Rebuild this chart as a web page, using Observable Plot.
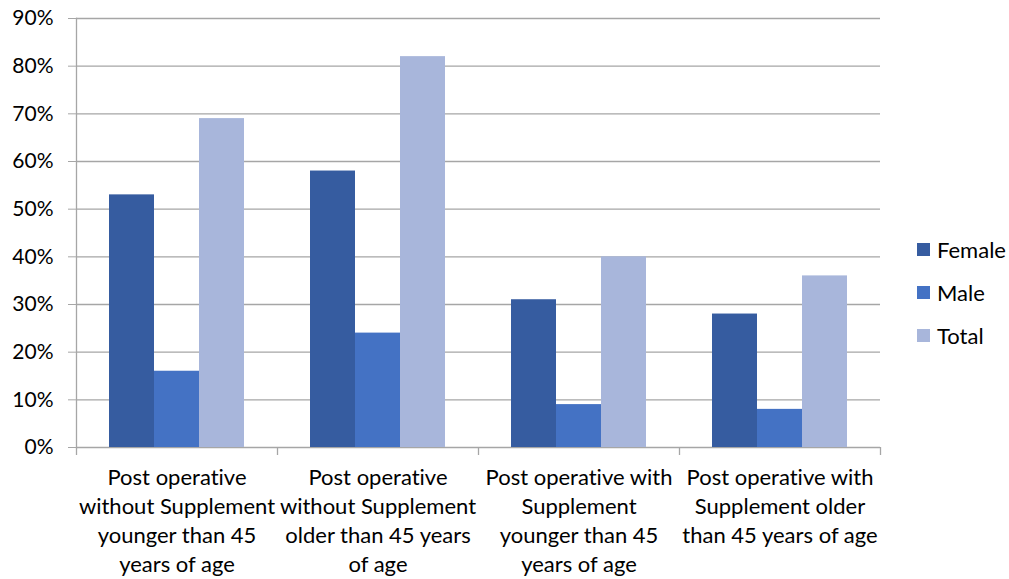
<!DOCTYPE html>
<html>
<head>
<meta charset="utf-8">
<script src="https://cdn.jsdelivr.net/npm/d3@7"></script>
<script src="https://cdn.jsdelivr.net/npm/@observablehq/plot@0.6"></script>
<style>
  html, body { margin: 0; padding: 0; background: #fff; }
  #wrap { position: relative; width: 1009px; height: 579px; font-family: Lato, "Open Sans", sans-serif; font-variant-ligatures: none; }
  #wrap svg text { font-variant-ligatures: none; font-feature-settings: "liga" 0, "clig" 0; }
  #legend { position: absolute; left: 917px; top: 228px; font-size: 22px; color: #000; }
  .item { display: flex; align-items: center; height: 43px; }
  .sw { width: 13px; height: 13px; margin-right: 7px; }
</style>
</head>
<body>
<div id="wrap"><div id="legend"></div></div>
<script>
const categories = [
  "Post operative without Supplement younger than 45 years of age",
  "Post operative without Supplement older than 45 years of age",
  "Post operative with Supplement younger than 45 years of age",
  "Post operative with Supplement older than 45 years of age"
];
const xLabels = [
  "Post operative\nwithout Supplement\nyounger than 45\nyears of age",
  "Post operative\nwithout Supplement\nolder than 45 years\nof age",
  "Post operative with\nSupplement\nyounger than 45\nyears of age",
  "Post operative with\nSupplement older\nthan 45 years of age"
];
const series = ["Female", "Male", "Total"];
const female = [53, 58, 31, 28];
const male = [16, 24, 9, 8];
const total = [69, 82, 40, 36];
const yTicks = [0, 10, 20, 30, 40, 50, 60, 70, 80, 90];
const colors = ["#365CA0", "#4472C4", "#A8B6DB"];

const values = {Female: female, Male: male, Total: total};
const data = [];
categories.forEach((c, i) => series.forEach(s => data.push({category: c, series: s, value: values[s][i]})));

const W = 1009, H = 579, mL = 76, mR = 129, mT = 18, mB = 132;
const bandW = (W - mL - mR) / categories.length;
const gridColor = "#A6A6A6";

const chart = Plot.plot({
  width: W, height: H,
  marginLeft: mL, marginRight: mR, marginTop: mT, marginBottom: mB,
  style: {fontFamily: "Lato, 'Open Sans', sans-serif", fontSize: "20px", color: "#000", background: "#fff", overflow: "visible"},
  fx: {domain: categories, padding: 0, label: null},
  x: {domain: series, paddingInner: 0, paddingOuter: 0.733, axis: null},
  y: {domain: [0, 90], label: null},
  color: {domain: series, range: colors},
  marks: [
    Plot.ruleY(yTicks, {y: d => d, stroke: gridColor, strokeWidth: 1.3}),
    Plot.frame({anchor: "left", stroke: gridColor, strokeWidth: 1.3, facet: "super"}),
    Plot.barY(data, {fx: "category", x: "series", y: "value", fill: "series"}),
    Plot.axisY({ticks: yTicks, tickSize: 8, tickPadding: 15, tickFormat: d => d + "%", stroke: gridColor, fill: "#000", fontSize: 21, label: null}),
    Plot.axisFx({anchor: "bottom", tickSize: 0, tickPadding: 17, tickFormat: d => xLabels[categories.indexOf(d)], lineHeight: 1.32, fontSize: 22, fill: "#000", label: null}),
    Plot.axisFx({anchor: "bottom", tickSize: 8, tickFormat: () => "", dx: -bandW / 2, stroke: gridColor, strokeWidth: 1.3, label: null}),
    Plot.axisFx({anchor: "bottom", ticks: [categories[categories.length - 1]], tickSize: 8, tickFormat: () => "", dx: bandW / 2, stroke: gridColor, strokeWidth: 1.3, label: null})
  ]
});
document.getElementById("wrap").prepend(chart);

const legend = document.getElementById("legend");
series.forEach((s, i) => {
  const item = document.createElement("div");
  item.className = "item";
  const sw = document.createElement("div");
  sw.className = "sw";
  sw.style.background = colors[i];
  const t = document.createElement("span");
  t.textContent = s;
  item.append(sw, t);
  legend.append(item);
});
</script>
</body>
</html>
